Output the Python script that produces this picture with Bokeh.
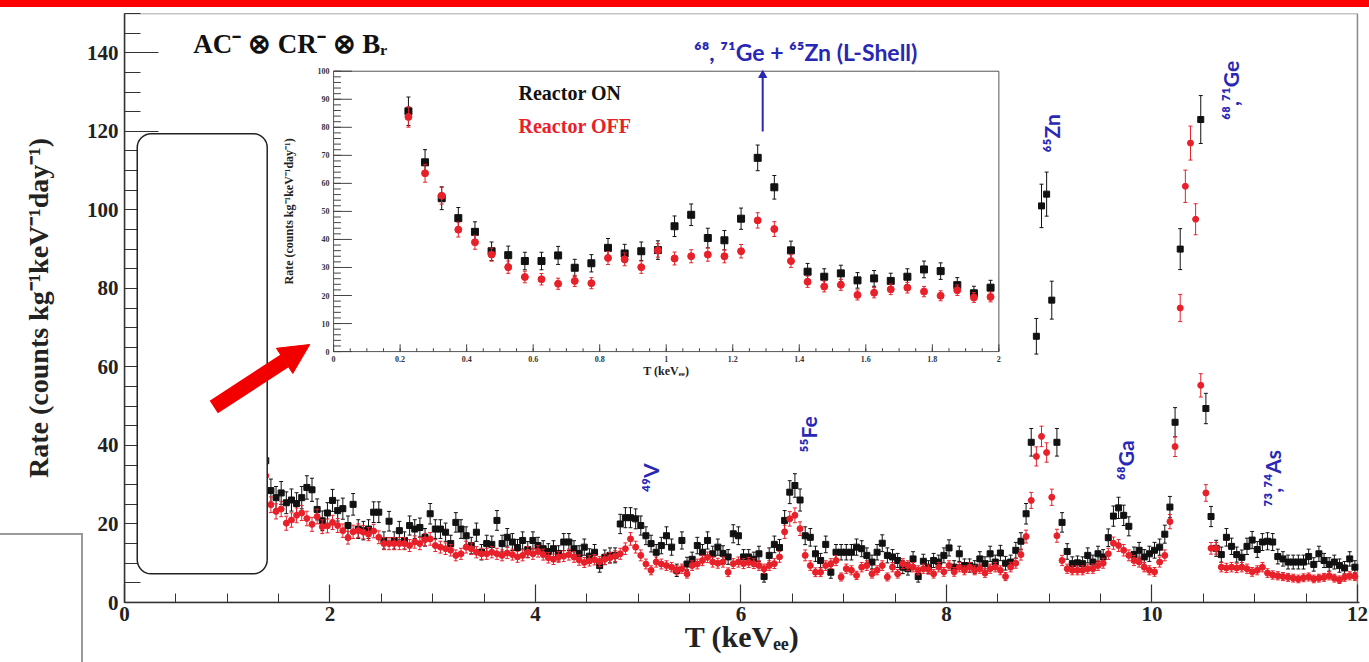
import numpy as np
from bokeh.plotting import figure
from bokeh.models import Range1d, FixedTicker, BoxAnnotation, Arrow, NormalHead
from bokeh.embed import file_html
from bokeh.resources import INLINE
from bokeh.core.properties import value

# ---------------- data (counts kg^-1 keV^-1 day^-1), 0.05 keV bins from 0.225 keV ----------------
rate_on = [
    85.7, 67.5, 54.7, 47.6, 42.7, 35.8, 34.4, 32.3, 32.3, 34.3,
    29.9, 31.5, 37.0, 35.0, 35.8, 36.2, 44.7, 48.8, 40.5, 39.7,
    47.4, 69.1, 58.6, 36.1, 28.5, 26.7, 27.9, 25.4, 26.1, 25.2,
    26.7, 29.3, 28.7, 23.7, 20.8, 22.8, 26.0, 23.4, 23.9, 19.6,
    25.0, 18.7, 18.3, 18.7, 23.0, 23.0, 15.8, 20.7, 15.8, 18.3,
    15.8, 19.6, 18.7, 19.1, 16.6, 22.6, 18.7, 18.7, 17.9, 15.0,
    20.4, 18.7, 17.0, 14.5, 17.9, 12.8, 15.0, 14.8, 20.9, 15.0,
    16.6, 15.4, 14.0, 15.8, 13.5, 15.8, 14.5, 13.7, 13.0, 13.7,
    12.5, 15.4, 15.4, 13.7, 12.5, 14.1, 11.8, 12.8, 9.4, 11.5,
    12.0, 12.0, 20.0, 21.6, 21.6, 21.3, 19.6, 17.0, 15.0, 12.8,
    14.5, 17.0, 14.1, 8.2, 15.8, 9.8, 11.0, 14.5, 12.8, 15.8,
    12.4, 14.1, 12.5, 11.6, 17.5, 17.0, 11.6, 11.6, 11.0, 12.4,
    6.6, 12.0, 14.8, 14.0, 20.9, 28.1, 29.8, 26.1, 17.0, 16.6,
    12.4, 10.7, 14.8, 7.7, 12.8, 12.8, 12.8, 12.8, 14.1, 13.7,
    12.0, 10.3, 12.8, 15.1, 12.0, 11.6, 10.7, 9.0, 8.6, 11.1,
    6.6, 10.5, 9.0, 10.7, 10.3, 12.0, 13.9, 9.0, 12.4, 9.4,
    9.4, 9.0, 11.1, 9.9, 12.4, 10.3, 12.6, 10.0, 10.3, 13.3,
    15.6, 22.6, 40.8, 67.8, 101.0, 104.0, 77.0, 40.8, 20.4, 13.0,
    9.9, 10.1, 9.9, 12.0, 10.3, 12.4, 11.6, 16.5, 22.0, 24.1,
    22.2, 19.4, 12.2, 13.3, 11.6, 12.4, 13.3, 14.1, 17.4, 24.3,
    45.9, 90.0, None, None, None, 123.0, 49.4, 21.9, 13.8, 12.2,
    16.6, 14.3, 12.2, 11.5, 14.3, 15.9, 13.5, 15.4, 15.6, 15.4,
    11.7, 11.1, 10.3, 10.3, 10.3, 10.3, 11.7, 9.7, 12.4, 10.7,
    9.7, 10.3, 9.4, 8.8, 11.1, 9.0,
]
rate_off = [
    83.7, 63.6, 55.6, 43.5, 39.0, 34.6, 30.1, 26.6, 25.8, 24.2,
    25.2, 24.4, 33.4, 32.9, 30.1, 36.1, 33.2, 34.0, 34.6, 34.0,
    35.8, 46.8, 43.7, 32.3, 24.9, 23.2, 23.8, 20.2, 21.0, 22.2,
    22.8, 21.4, 19.9, 21.9, 19.3, 19.5, 20.4, 19.6, 18.3, 16.5,
    18.0, 18.3, 17.9, 17.4, 18.2, 16.6, 15.0, 15.0, 15.0, 15.0,
    15.0, 14.5, 15.4, 15.0, 16.0, 16.2, 14.5, 14.1, 13.7, 13.3,
    12.0, 12.4, 14.1, 13.7, 12.8, 12.4, 12.4, 12.8, 12.4, 12.0,
    12.6, 12.2, 11.6, 12.0, 12.8, 12.4, 13.0, 12.2, 11.4, 11.0,
    11.6, 11.8, 12.2, 11.6, 10.8, 10.2, 10.6, 10.9, 10.4, 11.0,
    11.4, 11.8, 12.4, 13.7, 16.2, 14.1, 12.0, 9.8, 8.2, 10.3,
    9.8, 9.4, 9.0, 8.2, 8.6, 7.3, 9.4, 9.8, 10.7, 11.5,
    10.3, 10.0, 10.3, 7.7, 9.9, 10.3, 9.9, 10.2, 9.9, 9.4,
    8.6, 9.4, 9.9, 11.6, 18.0, 21.3, 22.2, 18.8, 12.0, 9.4,
    7.7, 7.7, 9.4, 9.9, 10.7, 6.5, 8.6, 8.2, 6.9, 9.0,
    9.4, 7.3, 8.2, 9.4, 6.5, 9.0, 7.3, 9.9, 9.4, 9.0,
    8.2, 8.6, 8.4, 7.3, 9.0, 7.8, 9.4, 7.8, 9.0, 8.2,
    9.0, 8.2, 8.6, 7.5, 8.6, 9.0, 8.2, 6.6, 9.0, 10.0,
    12.2, 16.8, 26.0, 37.2, 42.3, 38.2, 26.8, 17.0, 10.7, 8.6,
    8.2, 8.2, 8.2, 8.6, 8.6, 9.4, 10.0, 12.4, 15.1, 14.5,
    13.3, 12.0, 10.7, 10.3, 9.0, 8.2, 7.8, 10.3, 12.0, 20.6,
    39.7, 75.0, 106.0, 117.0, 97.6, 55.3, 27.9, 13.8, 13.8, 9.0,
    8.8, 9.0, 8.8, 9.0, 8.6, 7.8, 8.2, 9.0, 7.5, 7.0,
    6.8, 6.6, 6.4, 6.2, 6.0, 6.3, 6.5, 6.0, 6.2, 6.4,
    6.8, 6.2, 5.8, 6.4, 6.8, 6.6,
]
bin_width = 0.05
first_bin = 0.225
energy = [round(first_bin + bin_width * i, 3) for i in range(len(rate_on))]

main_xticks = [0, 2, 4, 6, 8, 10, 12]
main_yticks = [0, 20, 40, 60, 80, 100, 120, 140]
inset_xticks = [0, 0.2, 0.4, 0.6, 0.8, 1.0, 1.2, 1.4, 1.6, 1.8, 2.0]
inset_xlabels = ["0", "0.2", "0.4", "0.6", "0.8", "1", "1.2", "1.4", "1.6", "1.8", "2"]
inset_yticks = [0, 10, 20, 30, 40, 50, 60, 70, 80, 90, 100]

peak_names = ["\u2074\u2079V", "\u2075\u2075Fe", "\u2076\u2075Zn", "\u2076\u2078,\u2077\u00b9Ge",
              "\u2076\u2078Ga", "\u2077\u00b3,\u2077\u2074As"]
peak_x = [5.12, 6.66, 9.02, 10.76, 9.74, 11.17]
peak_y = [31.8, 42.8, 119.5, 130.4, 36.2, 31.6]

# ---------------- styling ----------------
BLACK = "#111111"
RED = "#e8202a"
BLUE = "#2828b4"
SERIF = "Liberation Serif"
SANS = "Lato"

E = np.array(energy, dtype=float)
on = np.array([np.nan if v is None else v for v in rate_on], dtype=float)
off = np.array(rate_off, dtype=float)
err_on = 0.55 * np.sqrt(on)
err_off = 0.4 * np.sqrt(off)

p = figure(width=1369, height=662, x_range=Range1d(0, 12.02), y_range=Range1d(0, 150),
           output_backend="svg", toolbar_location=None,
           min_border_left=124, min_border_right=10, min_border_top=13, min_border_bottom=60)
p.background_fill_color = "white"
p.border_fill_color = None
p.styles = {
    "background": (
        "linear-gradient(#ff0000, #ff0000) 0 0 / 100% 7px no-repeat, "
        "linear-gradient(#9a9a9a, #9a9a9a) 0 533px / 83px 2px no-repeat, "
        "linear-gradient(#9a9a9a, #9a9a9a) 81px 533px / 2px 140px no-repeat, "
        "#ffffff"
    )
}
p.outline_line_color = None
p.grid.visible = False

p.xaxis.ticker = FixedTicker(ticks=main_xticks, minor_ticks=list(np.arange(0, 12.01, 0.5)))
p.yaxis.ticker = FixedTicker(ticks=main_yticks, minor_ticks=list(range(0, 151, 5)))
for ax in (p.xaxis[0], p.yaxis[0]):
    ax.axis_line_color = "#333333"
    ax.axis_line_width = 1.5
    ax.major_tick_line_color = "#333333"
    ax.minor_tick_line_color = "#333333"
    ax.major_tick_line_width = 1.2
    ax.major_tick_out = 0
    ax.minor_tick_out = 0
    ax.major_label_text_font = SERIF
    ax.major_label_text_font_style = "bold"
    ax.major_label_text_font_size = "21px"
    ax.major_label_text_color = "#222222"
    ax.axis_label_text_font = SERIF
    ax.axis_label_text_font_style = "bold"
    ax.axis_label_text_color = "#222222"
p.xaxis.major_tick_in = 18
p.xaxis.minor_tick_in = 9
p.yaxis.major_tick_in = 34
p.yaxis.minor_tick_in = 16
p.xaxis.major_label_standoff = 4
p.yaxis.major_label_standoff = 6
p.yaxis.axis_label = "Rate (counts kg\u207b\u00b9keV\u207b\u00b9day\u207b\u00b9)"
p.yaxis.axis_label_text_font_size = "28px"
p.yaxis.axis_label_standoff = 30
p.xaxis.axis_label = "T (keV\u2091\u2091)"
p.xaxis.axis_label_text_font_size = "30px"
p.xaxis.axis_label_standoff = -4

# gray frame (top / right) of the main panel
p.add_layout(BoxAnnotation(left=0, right=12, bottom=0, top=150, fill_alpha=0,
                           line_color="#8a8a8a", line_alpha=1.0, line_width=1.5, level="underlay"))


def draw_points(api, x, y, err, color, marker, size, cap):
    api.segment(x0=x, y0=y - err, x1=x, y1=y + err, line_color=color, line_width=1)
    api.scatter(x=np.concatenate([x, x]), y=np.concatenate([y - err, y + err]),
                marker="dash", size=cap, line_color=color, line_width=1)
    api.scatter(x=x, y=y, marker=marker, size=size, fill_color=color, line_color=color)


# main spectra
draw_points(p, E, on, err_on, BLACK, "square", 6, 4)
draw_points(p, E, off, err_off, RED, "circle", 6, 4)

# texts in main panel
p.text(x=[0.67], y=[142.2], text=["AC\u207b \u2297 CR\u207b \u2297 B\u1d63"], text_font=value(SERIF),
       text_font_style="bold", text_font_size="27px", text_color="#111111",
       text_align="left", text_baseline="middle")
p.text(x=[6.63], y=[140.1], text=["\u2076\u2078, \u2077\u00b9Ge + \u2076\u2075Zn (L-Shell)"],
       text_font=value(SANS), text_font_style="bold", text_font_size="23px", text_color=BLUE,
       text_align="center", text_baseline="middle")
p.text(x=peak_x, y=peak_y, text=peak_names, angle=np.pi / 2, text_font=value(SANS),
       text_font_style="bold", text_font_size="21px", text_color=BLUE,
       text_align="center", text_baseline="middle")

# ---------------- inset ----------------
ins = p.subplot(x_source=Range1d(0, 2), y_source=Range1d(0, 100),
                x_target=Range1d(2.035, 8.51), y_target=Range1d(63.9, 135.3))
ins.quad(left=[0], right=[2], bottom=[0], top=[100], fill_color="white",
         line_color="#555555", line_width=1)
xminor = np.arange(0, 2.001, 0.05)
yminor = np.arange(0, 100.1, 2)
ins.segment(x0=xminor, y0=0, x1=xminor, y1=1.2, line_color="#444444", line_width=1)
ins.segment(x0=inset_xticks, y0=0, x1=inset_xticks, y1=2.6, line_color="#444444", line_width=1)
ins.segment(x0=0, y0=yminor, x1=0.022, y1=yminor, line_color="#444444", line_width=1)
ins.segment(x0=0, y0=inset_yticks, x1=0.055, y1=inset_yticks, line_color="#444444", line_width=1)
ins.text(x=inset_xticks, y=0, text=inset_xlabels, y_offset=4, text_align="center",
         text_baseline="top", text_font=value(SERIF), text_font_style="bold",
         text_font_size="8px", text_color="#333333")
ins.text(x=0, y=inset_yticks, text=[str(v) for v in inset_yticks], x_offset=-4,
         text_align="right", text_baseline="middle", text_font=value(SERIF),
         text_font_style="bold", text_font_size="8px", text_color="#333333")
ins.text(x=[-0.135], y=[50], text=["Rate (counts kg\u207b\u00b9keV\u207b\u00b9day\u207b\u00b9)"],
         angle=np.pi / 2, text_align="center", text_baseline="middle", text_font=value(SERIF),
         text_font_style="bold", text_font_size="12px", text_color="#222222")
ins.text(x=[1.0], y=[-7.1], text=["T (keV\u2091\u2091)"], text_align="center", text_baseline="middle",
         text_font=value(SERIF), text_font_style="bold", text_font_size="12px", text_color="#222222")
ins.text(x=[0.556], y=[92.2], text=["Reactor ON"], text_align="left", text_baseline="middle",
         text_font=value(SERIF), text_font_style="bold", text_font_size="20px", text_color=BLACK)
ins.text(x=[0.556], y=[80.5], text=["Reactor OFF"], text_align="left", text_baseline="middle",
         text_font=value(SERIF), text_font_style="bold", text_font_size="20px", text_color=RED)

low = E < 2
draw_points(ins, E[low], on[low], err_on[low], BLACK, "square", 7, 4)
draw_points(ins, E[low], off[low], err_off[low], RED, "circle", 7, 4)

ins.segment(x0=[1.29], y0=[78.5], x1=[1.29], y1=[98.0], line_color=BLUE, line_width=2)
ins.scatter(x=[1.29], y=[98.6], marker="triangle", size=8, fill_color=BLUE, line_color=BLUE)

# ---------------- annotations ----------------
box = BoxAnnotation(left=0.124, right=1.389, bottom=7.3, top=119.4, fill_color="white",
                    fill_alpha=1.0, line_color="#222222", line_alpha=1.0, line_width=1.5,
                    border_radius=14)
p.add_layout(box)
p.add_layout(Arrow(end=NormalHead(size=30, fill_color="#f20000", line_color="#f20000"),
                   x_start=0.869, y_start=49.8, x_end=1.803, y_end=65.7,
                   line_color="#f20000", line_width=15))

open("out.html", "w").write(file_html(p, INLINE))
